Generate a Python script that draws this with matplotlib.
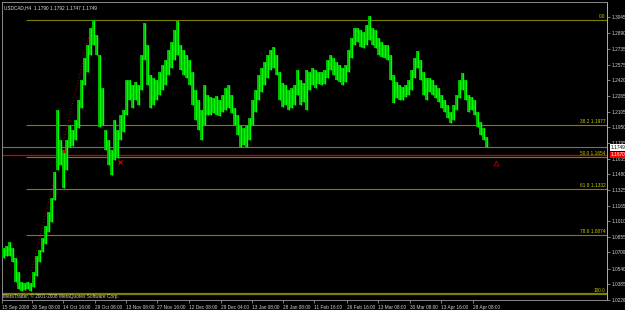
import matplotlib
matplotlib.use("Agg")
import matplotlib.pyplot as plt
import numpy as np

# ---------------- data ----------------
title_text = "USDCAD,H4  1.1790 1.1792 1.1747 1.1749"
copyright_text = "MetaTrader, \u00a9 2001-2008 MetaQuotes Software Corp."

# daily high / low (one value per trading day)
day_high = [1.0749, 1.0769, 1.0809, 1.0749, 1.0649, 1.0510, 1.0410, 1.0400, 1.0410, 1.0400,
            1.0510, 1.0669, 1.0729, 1.0849, 1.0968, 1.1108, 1.1247, 1.1506, 1.2123, 1.1825,
            1.1725, 1.1825, 1.1974, 1.1924, 1.2024, 1.2223, 1.2422, 1.2641, 1.2771, 1.2940,
            1.3020, 1.2870, 1.2671, 1.2343, 1.1924, 1.1825, 1.1725, 1.2024, 1.1924, 1.2074,
            1.2123, 1.2422, 1.2422, 1.2372, 1.2402, 1.2372, 1.2671, 1.2990, 1.2771, 1.2472,
            1.2442, 1.2422, 1.2502, 1.2572, 1.2621, 1.2721, 1.2801, 1.2920, 1.3010, 1.2771,
            1.2721, 1.2671, 1.2621, 1.2502, 1.2323, 1.2223, 1.2123, 1.2372, 1.2273, 1.2253,
            1.2243, 1.2263, 1.2223, 1.2273, 1.2343, 1.2372, 1.2273, 1.2143, 1.2074, 1.1974,
            1.1944, 1.1974, 1.2044, 1.2223, 1.2323, 1.2472, 1.2542, 1.2602, 1.2671, 1.2721,
            1.2751, 1.2671, 1.2502, 1.2392, 1.2372, 1.2323, 1.2343, 1.2372, 1.2522, 1.2422,
            1.2392, 1.2522, 1.2502, 1.2542, 1.2522, 1.2502, 1.2502, 1.2522, 1.2621, 1.2671,
            1.2641, 1.2602, 1.2572, 1.2542, 1.2572, 1.2721, 1.2841, 1.2940, 1.2940, 1.2920,
            1.2900, 1.2970, 1.3060, 1.2940, 1.2920, 1.2841, 1.2801, 1.2771, 1.2771, 1.2671,
            1.2472, 1.2402, 1.2372, 1.2353, 1.2372, 1.2422, 1.2522, 1.2641, 1.2711, 1.2621,
            1.2502, 1.2442, 1.2442, 1.2422, 1.2372, 1.2343, 1.2273, 1.2223, 1.2173, 1.2104,
            1.2173, 1.2273, 1.2422, 1.2492, 1.2422, 1.2273, 1.2253, 1.2223, 1.2104, 1.2004,
            1.1944, 1.1855]
day_low = [1.0649, 1.0669, 1.0669, 1.0610, 1.0410, 1.0331, 1.0311, 1.0321, 1.0331, 1.0311,
           1.0351, 1.0470, 1.0610, 1.0709, 1.0789, 1.0908, 1.1008, 1.1227, 1.1526, 1.1576,
           1.1347, 1.1526, 1.1755, 1.1765, 1.1825, 1.1944, 1.2143, 1.2372, 1.2502, 1.2671,
           1.2771, 1.2671, 1.1954, 1.1974, 1.1725, 1.1576, 1.1476, 1.1625, 1.1645, 1.1825,
           1.1904, 1.2074, 1.2223, 1.2143, 1.2223, 1.2173, 1.2323, 1.2621, 1.2372, 1.2143,
           1.2173, 1.2223, 1.2273, 1.2323, 1.2372, 1.2472, 1.2542, 1.2621, 1.2671, 1.2522,
           1.2472, 1.2442, 1.2372, 1.2173, 1.2024, 1.1924, 1.1825, 1.1974, 1.2074, 1.2074,
           1.2094, 1.2074, 1.2064, 1.2104, 1.2123, 1.2143, 1.2094, 1.1974, 1.1874, 1.1755,
           1.1775, 1.1755, 1.1825, 1.1974, 1.2104, 1.2223, 1.2303, 1.2372, 1.2442, 1.2522,
           1.2542, 1.2472, 1.2223, 1.2153, 1.2173, 1.2123, 1.2143, 1.2173, 1.2273, 1.2173,
           1.2203, 1.2123, 1.2323, 1.2372, 1.2343, 1.2382, 1.2372, 1.2382, 1.2442, 1.2522,
           1.2472, 1.2422, 1.2402, 1.2372, 1.2402, 1.2502, 1.2641, 1.2771, 1.2801, 1.2751,
           1.2741, 1.2771, 1.2821, 1.2771, 1.2741, 1.2671, 1.2651, 1.2641, 1.2621, 1.2422,
           1.2193, 1.2243, 1.2223, 1.2223, 1.2253, 1.2273, 1.2323, 1.2442, 1.2542, 1.2422,
           1.2273, 1.2223, 1.2303, 1.2273, 1.2243, 1.2203, 1.2143, 1.2104, 1.2044, 1.1994,
           1.2024, 1.2123, 1.2243, 1.2323, 1.2223, 1.2104, 1.2123, 1.2074, 1.1954, 1.1874,
           1.1825, 1.1755]
bars_per_day = 6
visible_bars = 1210

fib_levels = [0.0, 38.2, 50.0, 61.8, 78.6, 100.0]
fib_high = 1.3019
fib_low = 1.0290
fib_low_bar = 48
fib_high_bar = 182

bid_price = 1.1749
bid_label = "1.1749"
alert_price = 1.1675
alert_label = "1.1670"

marker_square = (124, 1.1715)
marker_cross = (236, 1.1606)
marker_arrow = (988, 1.1596)

price_ticks = [1.3045, 1.2890, 1.2735, 1.2575, 1.2420, 1.2265, 1.2105, 1.1950, 1.1795,
               1.1635, 1.1480, 1.1325, 1.1165, 1.1010, 1.0855, 1.0700, 1.0540, 1.0385, 1.0226]
date_tick_bars = [0, 59, 122, 186, 248, 310, 374, 438, 500, 562, 624, 690, 752, 816, 878, 942]
date_labels = ["15 Sep 2008", "30 Sep 08:00", "14 Oct 16:00", "29 Oct 08:00", "13 Nov 08:00",
               "27 Nov 16:00", "12 Dec 08:00", "29 Dec 04:00", "13 Jan 08:00", "28 Jan 08:00",
               "11 Feb 16:00", "26 Feb 16:00", "13 Mar 08:00", "30 Mar 08:00", "13 Apr 16:00",
               "28 Apr 08:00"]
y_range = (1.0231, 1.3199)

# ---------------- plot ----------------
FONT = "Liberation Sans"
FS = 3.4
W, H = 625, 310
fig = plt.figure(figsize=(W / 100, H / 100), dpi=100, facecolor="black")
ax = fig.add_axes([2 / W, 10 / H, 605 / W, 298 / H], facecolor="black")

hi = np.array(day_high)
lo = np.array(day_low)
xs = np.arange(len(hi)) * bars_per_day + bars_per_day / 2

ax.bar(xs, hi - lo, bottom=lo, width=bars_per_day * 0.8, color="#00b400", linewidth=0, zorder=3)
ax.vlines(xs, lo, hi, color="#00ff00", linewidth=1.0, zorder=4)

# horizontal price lines
ax.axhline(bid_price, color="#707070", lw=0.8, zorder=2)
ax.axhline(alert_price, color="#d00000", lw=0.9, zorder=2)

# fibonacci
rng = fib_high - fib_low
for lv in fib_levels:
    p = fib_high - rng * lv / 100.0
    if lv == 100.0:
        ax.axhline(p, color="#808000", lw=1.6, zorder=2)
        txt = "100.0"
    elif lv == 0.0:
        ax.hlines(p, fib_low_bar, visible_bars, color="#808000", lw=0.8, zorder=2)
        txt = "0.0"
    else:
        ax.hlines(p, fib_low_bar, visible_bars, color="#808000", lw=0.8, zorder=2)
        txt = f"{lv:.1f} {p:.4f}"
    ax.text(visible_bars - 3, p + 0.0007, txt, ha="right", va="bottom", color="#c8c800",
            fontsize=FS, family=FONT, zorder=5)

ax.plot([fib_low_bar, fib_high_bar], [fib_low, fib_high], ls=(0, (1, 2)), color="#b00000",
        lw=0.7, zorder=2)

# markers
ax.plot(*marker_square, marker="s", ms=1.8, color="#e00000", zorder=6)
ax.plot(*marker_cross, marker="x", ms=2.2, mew=0.8, color="#e00000", zorder=6)
ax.plot(*marker_arrow, marker="^", ms=3.5, mfc="none", mec="#a00000", mew=0.7, zorder=6)

ax.set_xlim(0, visible_bars)
ax.set_ylim(*y_range)

# axes style
for s in ax.spines.values():
    s.set_color("#8a8a8a")
    s.set_linewidth(0.7)
ax.spines["right"].set_color("#b0b0b0")

ax.yaxis.tick_right()
ax.set_yticks(price_ticks)
ax.set_yticklabels([f"{t:.4f}" for t in price_ticks])
ax.tick_params(axis="y", colors="#b0b0b0", labelcolor="#d0d0d0", length=2, width=0.5,
               pad=1.2, labelsize=FS)
ax.set_xticks(date_tick_bars)
ax.set_xticklabels(date_labels)
ax.tick_params(axis="x", colors="#b0b0b0", labelcolor="#d0d0d0", length=2.5, width=0.5,
               pad=1.0, labelsize=FS)
for lab in ax.get_xticklabels():
    lab.set_horizontalalignment("left")
    lab.set_family(FONT)
for lab in ax.get_yticklabels():
    lab.set_family(FONT)

# price boxes on axis
ax.text(1.006, bid_price, bid_label, transform=ax.get_yaxis_transform(), ha="left", va="center",
        fontsize=FS, family=FONT, color="black",
        bbox=dict(boxstyle="square,pad=0.15", fc="white", ec="white", lw=0), clip_on=False, zorder=7)
ax.text(1.006, alert_price, alert_label, transform=ax.get_yaxis_transform(), ha="left", va="center",
        fontsize=FS, family=FONT, color="white",
        bbox=dict(boxstyle="square,pad=0.15", fc="#ff0000", ec="#ff0000", lw=0), clip_on=False, zorder=7)

ax.text(0.004, 0.99, title_text, transform=ax.transAxes, ha="left", va="top",
        color="#e0e0e0", fontsize=FS, family=FONT)
ax.text(0.002, 0.004, copyright_text, transform=ax.transAxes, ha="left", va="bottom",
        color="#d0d0d0", fontsize=FS, family=FONT)

fig.savefig("out.png", dpi=100, facecolor="black")
